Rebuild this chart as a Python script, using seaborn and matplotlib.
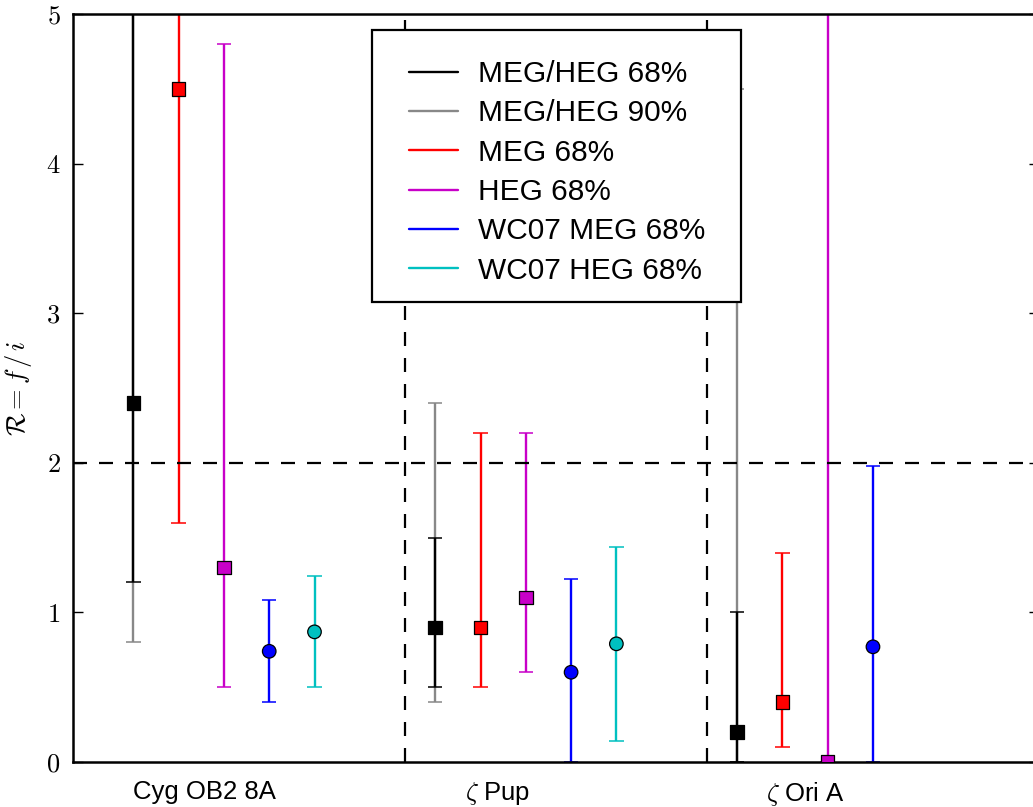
import matplotlib
matplotlib.use("Agg")
import matplotlib.pyplot as plt
import numpy as np
import pandas as pd
import seaborn as sns
from matplotlib.lines import Line2D
from matplotlib.patches import Rectangle

# -----------------------------------------------------------------------------
# Data
# -----------------------------------------------------------------------------
stars = ["Cyg OB2 8A", r"$\zeta$ Pup", r"$\zeta$ Ori A"]

series = ["MEG/HEG 68%", "MEG/HEG 90%", "MEG 68%", "HEG 68%", "WC07 MEG 68%", "WC07 HEG 68%"]
colors = ["black", "#888888", "#ff0000", "#c800c8", "#0000ff", "#00c0c0"]
offsets = [-0.3, -0.3, -0.15, 0.0, 0.15, 0.3]
markers = ["s", None, "s", "s", "o", "o"]

# best-fit values (nan = no point), lower and upper limits per star
meg_heg_68 = [2.4, 0.9, 0.2]
meg_heg_68_lo = [1.2, 0.5, 0.0]
meg_heg_68_hi = [6.0, 1.5, 1.0]

meg_heg_90 = [np.nan, np.nan, np.nan]
meg_heg_90_lo = [0.8, 0.4, 0.0]
meg_heg_90_hi = [6.0, 2.4, 4.5]

meg_68 = [4.5, 0.9, 0.4]
meg_68_lo = [1.6, 0.5, 0.1]
meg_68_hi = [6.0, 2.2, 1.4]

heg_68 = [1.3, 1.1, 0.0]
heg_68_lo = [0.5, 0.6, 0.0]
heg_68_hi = [4.8, 2.2, 6.0]

wc07_meg = [0.74, 0.6, 0.77]
wc07_meg_lo = [0.4, 0.0, 0.0]
wc07_meg_hi = [1.08, 1.22, 1.98]

wc07_heg = [0.87, 0.79, np.nan]
wc07_heg_lo = [0.5, 0.14, np.nan]
wc07_heg_hi = [1.24, 1.44, np.nan]

values = [meg_heg_68, meg_heg_90, meg_68, heg_68, wc07_meg, wc07_heg]
lows = [meg_heg_68_lo, meg_heg_90_lo, meg_68_lo, heg_68_lo, wc07_meg_lo, wc07_heg_lo]
highs = [meg_heg_68_hi, meg_heg_90_hi, meg_68_hi, heg_68_hi, wc07_meg_hi, wc07_heg_hi]

yticks = [0, 1, 2, 3, 4, 5]
xtick_pos = [-0.063, 0.907, 1.927]
boundaries = [0.6, 1.6]
r_threshold = 2.0

# -----------------------------------------------------------------------------
# Build long table
# -----------------------------------------------------------------------------
rows = []
for s, vals, lo, hi, off in zip(series, values, lows, highs, offsets):
    for i in range(len(stars)):
        rows.append(dict(series=s, x=i + off, val=vals[i], lo=lo[i], hi=hi[i]))
df = pd.DataFrame(rows)

# -----------------------------------------------------------------------------
# Plot
# -----------------------------------------------------------------------------
sns.set_theme(style="ticks")
plt.rcParams["font.family"] = ["Liberation Sans", "DejaVu Sans"]
plt.rcParams["mathtext.fontset"] = "cm"
for key in ("text.color", "axes.labelcolor", "xtick.color", "ytick.color", "axes.edgecolor"):
    plt.rcParams[key] = "black"

fig = plt.figure(figsize=(10.33, 8.07), dpi=100)
ax = fig.add_axes([73 / 1033, 45 / 807, 966 / 1033, 748 / 807])

# error bars: 90% first so the 68% black bar lies on top
order = [1, 0, 2, 3, 4, 5]
for z, k in enumerate(order):
    s, c = series[k], colors[k]
    sub = df[(df.series == s) & df.lo.notna()]
    ax.vlines(sub.x, sub.lo, sub.hi, color=c, lw=1.7, zorder=2 + 0.1 * z)
    for lim in ("lo", "hi"):
        ax.hlines(sub[lim], sub.x - 0.024, sub.x + 0.024, color=c, lw=1.1, zorder=2 + 0.1 * z)

pts = df[df.val.notna()]
palette = dict(zip(series, colors))
mk = {s: m for s, m in zip(series, markers) if m is not None}
sns.scatterplot(data=pts, x="x", y="val", hue="series", style="series",
                palette={s: palette[s] for s in mk}, markers=mk,
                s=95, edgecolor="black", linewidth=0.9, legend=False, ax=ax, zorder=5)

dash = (0, (6.3, 5.4))
ax.axhline(r_threshold, color="black", lw=1.6, ls=dash, zorder=4)
for b in boundaries:
    ax.axvline(b, color="black", lw=1.6, ls=dash, zorder=4)

ax.set_xlim(-0.5, 2.7)
ax.set_ylim(0, 5)
ax.set_xticks(xtick_pos)
ax.set_xticklabels(stars, fontsize=18.5)
ax.set_yticks(yticks)
ax.set_yticklabels([f"${t}$" for t in yticks], fontsize=19)
ax.tick_params(axis="x", length=0, pad=13)
ax.tick_params(axis="y", direction="in", length=7, width=1, right=True, left=True, pad=9)
ax.set_xlabel("")
ax.set_ylabel(r"$\mathcal{R} = f\,/\,i$", fontsize=19)
ax.yaxis.set_label_coords(-0.040, 0.5)
for sp in ax.spines.values():
    sp.set_linewidth(1.8)

# legend box drawn separately so its size can be matched
box = Rectangle((372 / 1033, 1 - 302 / 807), 369 / 1033, 272 / 807,
                transform=fig.transFigure, facecolor="white", edgecolor="black",
                lw=1.6, zorder=9, clip_on=False)
ax.add_patch(box)

handles = [Line2D([], [], color=c, lw=1.7) for c in colors]
leg = ax.legend(handles, series, loc="upper left",
                bbox_to_anchor=(409 / 1033, 1 - 60 / 807), bbox_transform=fig.transFigure,
                borderaxespad=0, borderpad=0, fontsize=21.5, frameon=False,
                handlelength=1.65, handletextpad=0.67, labelspacing=0.38)
leg.set_zorder(10)

fig.savefig("out.png", dpi=100)
